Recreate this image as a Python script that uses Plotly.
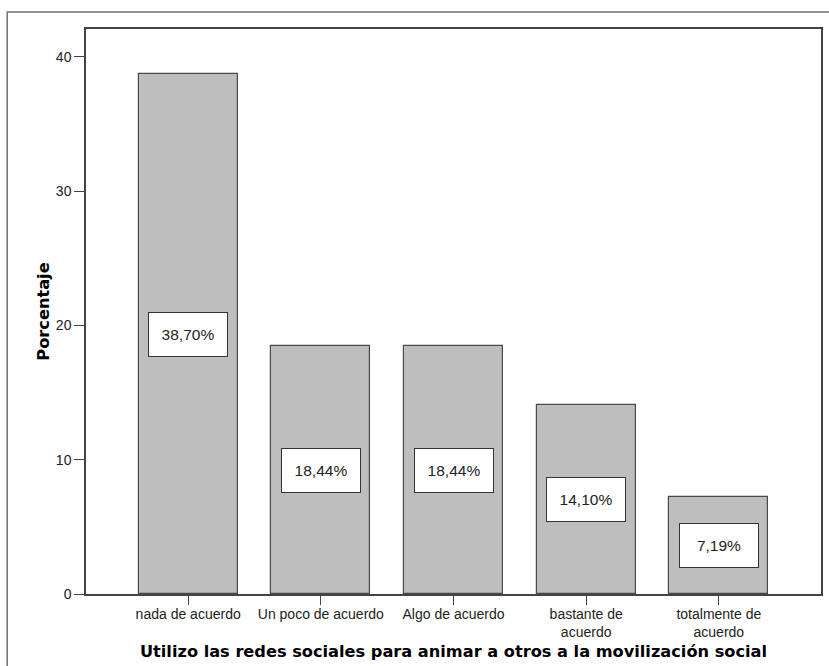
import plotly.graph_objects as go

# Survey responses and their percentage share
categories = ["nada de acuerdo", "Un poco de acuerdo", "Algo de acuerdo",
              "bastante de<br>acuerdo", "totalmente de<br>acuerdo"]
percentages = [38.70, 18.44, 18.44, 14.10, 7.19]
y_ticks = [0, 10, 20, 30, 40]

x_title = "Utilizo las redes sociales para animar a otros a la movilización social"
y_title = "Porcentaje"

label_font = "Liberation Sans, Arial, sans-serif"
title_font = "DejaVu Sans, Verdana, sans-serif"

fig = go.Figure(
    go.Bar(
        x=categories,
        y=percentages,
        width=0.745,
        marker=dict(color="#bebebe", line=dict(color="#4a4a4a", width=1.2)),
        hoverinfo="skip",
    )
)

# Value boxes placed at half the bar height
for cat, val in zip(categories, percentages):
    fig.add_annotation(
        x=cat, y=val / 2, xref="x", yref="y",
        text=f"{val:.2f}%".replace(".", ","),
        showarrow=False,
        font=dict(family=label_font, size=15.5, color="#222"),
        bgcolor="white", bordercolor="#333", borderwidth=1,
        borderpad=3, width=72, height=37,
    )

# Thin frame around the whole chart
fig.add_shape(
    type="rect", xref="paper", yref="paper",
    x0=-0.1072, x1=1.05, y0=-0.16, y1=1.0301,
    line=dict(color="#707070", width=1.5), fillcolor="rgba(0,0,0,0)",
    layer="below",
)

fig.update_layout(
    width=829, height=666,
    margin=dict(l=86, r=6, t=29, b=72),
    paper_bgcolor="white", plot_bgcolor="white",
    showlegend=False,
    bargap=0,
)

fig.update_xaxes(
    type="category", range=[-0.77, 4.77],
    showline=True, mirror=True, linecolor="#444", linewidth=1.5,
    ticks="outside", ticklen=9, tickcolor="#444", tickwidth=1.2,
    ticklabelstandoff=-3,
    tickfont=dict(family=label_font, size=14, color="#222"),
    showgrid=False, zeroline=False,
    title=dict(text=x_title, standoff=7,
               font=dict(family=title_font, size=16.2, color="black", weight="bold")),
)
fig.update_yaxes(
    range=[0, 42.07], tickvals=y_ticks,
    showline=True, mirror=True, linecolor="#444", linewidth=1.5,
    ticks="outside", ticklen=10, tickcolor="#444", tickwidth=1.2,
    tickfont=dict(family=label_font, size=14, color="#222"),
    showgrid=False, zeroline=False,
    title=dict(text=y_title, standoff=2,
               font=dict(family=title_font, size=16.2, color="black", weight="bold")),
)

fig.write_html("out.html")
